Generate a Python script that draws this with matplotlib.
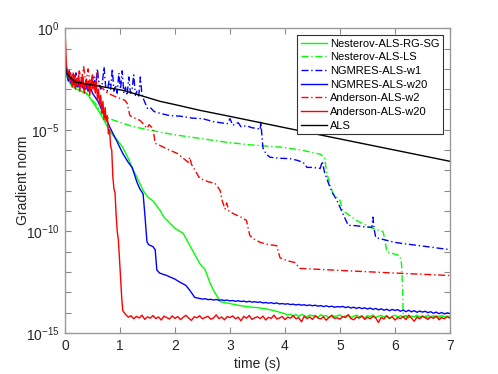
import matplotlib
matplotlib.use("Agg")
import matplotlib.pyplot as plt
import numpy as np

plt.rcParams['font.family'] = ['Liberation Sans', 'DejaVu Sans']
plt.rcParams['mathtext.fontset'] = 'custom'
plt.rcParams['mathtext.rm'] = 'Liberation Sans'
plt.rcParams['mathtext.default'] = 'regular'

# ---- data: time (s) and log10(gradient norm) ----

# ALS
t_als = [0, 0.01, 0.03, 0.07, 0.18, 0.55, 1.04, 1.3, 1.73, 2.0, 2.45, 3.0, 4.22, 5.0, 6.0, 7.0]
g_als = [-1.3, -1.9, -2.2, -2.35, -2.65, -2.82, -3.05, -3.25, -3.6, -3.76, -4.04, -4.34, -5.02, -5.45, -6.0, -6.55]

# Nesterov-ALS-RG-SG
t_nrg = [0, 0.02, 0.05, 0.1, 0.15, 0.25, 0.4, 0.51, 0.64, 0.73, 0.82, 0.87, 0.95, 1.05, 1.15,
         1.22, 1.3, 1.42, 1.5, 1.6, 1.73, 1.8, 1.91, 2.0, 2.15, 2.3, 2.45, 2.55, 2.64, 2.72,
         2.78, 2.82, 2.9, 3.0, 3.18, 3.36, 3.5, 3.67, 3.8, 3.96]
g_nrg = [-1.4, -2.2, -2.5, -2.75, -2.9, -3.05, -3.2, -3.65, -4.19, -4.63, -5.1, -5.27, -5.5, -5.86, -6.4,
         -6.85, -7.3, -7.98, -8.3, -8.5, -8.97, -9.3, -9.6, -9.85, -10.1, -10.84, -11.58, -11.9, -12.56, -13.0,
         -13.25, -13.45, -13.5, -13.55, -13.65, -13.72, -13.75, -13.82, -13.9, -14.02]
g_nrg_floor = [-14.05, -14.12, -14.08, -14.15, -14.10, -14.18, -14.09, -14.14, -14.20, -14.11,
               -14.16, -14.13, -14.22, -14.10, -14.17, -14.14, -14.25, -14.12, -14.19, -14.15,
               -14.11, -14.21, -14.16, -14.13, -14.24, -14.18, -14.12, -14.20, -14.15, -14.27,
               -14.14, -14.19, -14.11, -14.23, -14.17, -14.13, -14.21, -14.16, -14.30, -14.18,
               -14.12, -14.22, -14.15, -14.19, -14.13, -14.26, -14.17, -14.21, -14.14, -14.20,
               -14.16, -14.24, -14.12, -14.19, -14.15, -14.22, -14.18, -14.13, -14.21, -14.17, -14.19]

# Nesterov-ALS-LS
t_nls = [0, 0.02, 0.05, 0.1, 0.2, 0.4, 0.55, 0.65, 0.72, 0.8, 1.0, 1.25, 1.55, 2.0, 2.45, 2.9,
         3.36, 3.96, 4.3, 4.64, 4.72, 4.76, 4.87, 5.0, 5.05, 5.3, 5.55, 5.67, 5.78, 5.82, 5.85,
         6.09, 6.12, 6.14, 6.15]
g_nls = [-1.4, -2.2, -2.5, -2.75, -2.95, -3.25, -3.7, -4.1, -4.3, -4.45, -4.63, -4.85, -5.02, -5.25, -5.42, -5.6,
         -5.74, -5.86, -6.0, -6.2, -6.35, -7.14, -8.13, -8.47, -8.97, -9.46, -9.8, -9.92, -10.0, -10.4, -11.0,
         -11.2, -11.6, -12.8, -14.1]
g_nls_floor = [-14.22, -14.15, -14.28, -14.18, -14.24, -14.12, -14.30, -14.20, -14.16,
               -14.26, -14.19, -14.23, -14.14, -14.27, -14.21, -14.17, -14.25, -14.20]

# NGMRES-ALS-w1
t_nw1 = [0, 0.02, 0.05, 0.08, 0.11, 0.14, 0.17, 0.2, 0.23, 0.26, 0.29, 0.32, 0.35, 0.38, 0.41,
         0.44, 0.47, 0.5, 0.53, 0.56, 0.59, 0.62, 0.65, 0.68, 0.71, 0.74, 0.77, 0.8, 0.83, 0.86,
         0.89, 0.92, 0.95, 0.98, 1.01, 1.04, 1.07, 1.1, 1.13, 1.16, 1.19, 1.22, 1.25, 1.28, 1.31,
         1.34, 1.37, 1.4, 1.43, 1.46, 1.5, 1.55, 1.62, 1.73, 1.9, 2.1, 2.33, 2.5, 2.7, 2.95,
         3.0, 3.05, 3.15, 3.2, 3.3, 3.4, 3.5, 3.55, 3.56, 3.6, 3.66, 3.73, 3.9, 4.09, 4.22,
         4.33, 4.4, 4.5, 4.64, 4.68, 4.72, 4.76, 4.8, 4.87, 4.95, 5.05, 5.15, 5.3, 5.45, 5.58,
         5.6, 5.62, 5.65, 5.85, 6.0, 6.15, 6.5, 7.0]
g_nw1 = [-1.2, -1.9, -2.4, -2.1, -2.7, -2.3, -2.8, -2.2, -2.6, -2.9, -2.5, -2.8, -2.7, -3.0, -2.6,
         -2.9, -2.7, -3.0, -2.4, -2.9, -2.0, -2.8, -3.0, -2.7, -1.9, -2.9, -3.1, -2.6, -3.0, -2.0,
         -3.1, -2.8, -3.2, -2.2, -3.0, -2.1, -3.2, -2.9, -3.3, -2.4, -3.2, -3.0, -2.3, -3.3, -3.1,
         -3.4, -2.4, -3.3, -3.5, -3.7, -3.95, -3.9, -4.1, -4.19, -4.3, -4.33, -4.43, -4.45, -4.6, -4.7,
         -4.45, -4.78, -4.65, -4.85, -4.8, -4.9, -4.93, -5.0, -4.6, -5.9, -6.2, -6.35, -6.4, -6.42, -6.5,
         -6.6, -6.85, -6.85, -6.9, -6.55, -7.1, -7.39, -7.7, -8.13, -8.5, -9.11, -9.7, -9.72, -9.78, -9.8,
         -9.3, -9.85, -10.3, -10.44, -10.54, -10.6, -10.72, -10.9]

# NGMRES-ALS-w20
t_nw20 = [0, 0.03, 0.06, 0.1, 0.14, 0.18, 0.22, 0.26, 0.3, 0.34, 0.38, 0.42, 0.46, 0.5, 0.55,
          0.6, 0.65, 0.7, 0.76, 0.82, 0.87, 0.95, 1.05, 1.15, 1.22, 1.31, 1.36, 1.42, 1.45, 1.49,
          1.52, 1.6, 1.64, 1.67, 1.72, 1.85, 2.0, 2.09, 2.2, 2.27, 2.36, 2.45]
g_nw20 = [-1.3, -2.2, -2.6, -2.4, -2.8, -2.5, -2.9, -2.6, -2.8, -3.0, -2.7, -3.1, -2.9, -3.2, -3.4,
          -3.6, -3.9, -4.2, -4.53, -4.9, -5.17, -5.6, -6.16, -6.6, -6.85, -7.59, -7.9, -8.15, -9.1, -10.5,
          -10.65, -10.75, -10.9, -11.9, -12.05, -12.17, -12.35, -12.5, -12.66, -12.9, -13.25, -13.3]
g_nw20_floor = [-13.33, -13.31, -13.36, -13.34, -13.38, -13.35, -13.39, -13.37, -13.40, -13.38,
                -13.42, -13.40, -13.44, -13.41, -13.45, -13.43, -13.47, -13.44, -13.48, -13.46,
                -13.49, -13.47, -13.52, -13.50, -13.53, -13.51, -13.55, -13.52, -13.57, -13.55,
                -13.58, -13.56, -13.60, -13.58, -13.62, -13.59, -13.63, -13.61, -13.65, -13.62,
                -13.66, -13.63, -13.68, -13.65, -13.70, -13.66, -13.71, -13.68, -13.73, -13.70,
                -13.72, -13.69, -13.75, -13.71, -13.77, -13.73, -13.79, -13.74, -13.80, -13.76,
                -13.82, -13.77, -13.84, -13.79, -13.86, -13.81, -13.88, -13.83, -13.90, -13.84,
                -13.89, -13.85, -13.93, -13.87, -13.95, -13.88, -13.96, -13.90, -13.98, -13.92,
                -13.97, -13.93, -14.00, -13.95, -14.03, -13.97, -14.05, -13.99, -14.06, -14.01, -14.04]

# Anderson-ALS-w2
t_aw2 = [0, 0.03, 0.06, 0.1, 0.14, 0.18, 0.22, 0.26, 0.3, 0.34, 0.38, 0.42, 0.46, 0.5, 0.54,
         0.58, 0.62, 0.65, 0.7, 0.75, 0.82, 0.9, 1.0, 1.09, 1.13, 1.18, 1.25, 1.36, 1.42, 1.49,
         1.53, 1.6, 1.64, 1.75, 1.9, 2.04, 2.15, 2.24, 2.27, 2.3, 2.45, 2.6, 2.73, 2.82, 2.86,
         2.91, 2.94, 2.98, 3.05, 3.2, 3.3, 3.36, 3.45, 3.55, 3.7, 3.85, 3.91, 4.05, 4.18, 4.27,
         5.0, 6.0, 7.0]
g_aw2 = [-1.4, -2.0, -2.5, -2.2, -2.7, -2.3, -2.8, -2.1, -2.6, -1.9, -2.7, -2.0, -2.8, -2.3, -2.9,
         -2.2, -2.7, -2.9, -3.0, -3.15, -3.25, -3.35, -3.45, -3.55, -3.7, -4.3, -4.4, -4.53, -4.7, -4.93,
         -4.75, -4.93, -5.67, -5.8, -6.0, -6.16, -6.4, -6.6, -6.35, -6.7, -7.39, -7.55, -7.64, -7.98, -8.5,
         -8.9, -8.6, -9.0, -9.11, -9.3, -9.46, -10.2, -10.4, -10.54, -10.65, -10.7, -11.3, -11.45, -11.53, -11.82,
         -11.92, -12.05, -12.17]

# Anderson-ALS-w20
t_aw20 = [0, 0.01, 0.02, 0.03, 0.05, 0.07, 0.09, 0.11, 0.13, 0.15, 0.17, 0.19, 0.21, 0.23, 0.25,
          0.27, 0.29, 0.31, 0.33, 0.35, 0.37, 0.39, 0.41, 0.43, 0.45, 0.47, 0.49, 0.51, 0.53, 0.55,
          0.57, 0.59, 0.61, 0.63, 0.65, 0.67, 0.69, 0.71, 0.73, 0.75, 0.77, 0.79, 0.81, 0.83, 0.85,
          0.87, 0.89, 0.91, 0.93, 0.95, 0.97, 0.99, 1.01, 1.03, 1.05]
g_aw20 = [0.0, -0.7, -1.4, -1.9, -2.3, -2.1, -2.6, -2.4, -2.9, -2.2, -2.7, -3.0, -2.5, -2.8, -2.3,
          -3.1, -2.6, -2.9, -2.4, -3.2, -2.7, -2.5, -3.0, -2.6, -3.3, -2.8, -2.4, -3.0, -2.7, -3.2,
          -2.6, -3.5, -3.0, -3.8, -3.3, -4.2, -3.6, -4.5, -3.9, -4.6, -4.3, -5.2, -5.0, -5.8, -6.0,
          -7.3, -7.9, -8.1, -9.2, -10.0, -10.4, -11.3, -12.3, -13.2, -13.9]
g_aw20_floor = [-14.08, -14.22, -14.15, -14.30, -14.18, -14.26, -14.12, -14.33, -14.20, -14.27,
                -14.14, -14.29, -14.21, -14.36, -14.17, -14.24, -14.31, -14.16, -14.28, -14.19,
                -14.34, -14.22, -14.13, -14.27, -14.38, -14.20, -14.25, -14.15, -14.30, -14.23,
                -14.18, -14.32, -14.26, -14.11, -14.29, -14.21, -14.35, -14.19, -14.24, -14.16,
                -14.30, -14.22, -14.40, -14.18, -14.27, -14.14, -14.33, -14.25, -14.20, -14.29,
                -14.17, -14.36, -14.23, -14.28, -14.12, -14.31, -14.26, -14.19, -14.34, -14.22,
                -14.27, -14.15, -14.30, -14.24, -14.45, -14.18, -14.29, -14.21, -14.33, -14.16,
                -14.26, -14.31, -14.20, -14.37, -14.23, -14.14, -14.28, -14.25, -14.32, -14.19,
                -14.24, -14.10, -14.29, -14.35, -14.21, -14.27, -14.17, -14.33, -14.22, -14.30,
                -14.18, -14.26, -14.48, -14.23, -14.31, -14.15, -14.28, -14.20, -14.36, -14.24,
                -14.29, -14.19, -14.34, -14.12, -14.27, -14.42, -14.22, -14.30, -14.17, -14.25,
                -14.33, -14.21, -14.28, -14.16, -14.35, -14.24, -14.30, -14.20, -14.27]


def series(t, g, t0=None, floor=None):
    t = list(t)
    g = list(g)
    if floor is not None:
        t += list(np.linspace(t0, 7.0, len(floor)))
        g += list(floor)
    return np.array(t), 10.0 ** np.array(g)


dd = (0, (5, 2, 1, 2))
GREEN = '#00ff00'

fig = plt.figure(figsize=(4.98, 3.74), dpi=100)
ax = fig.add_axes([0.1305, 0.1096, 0.773, 0.815])

x, y = series(t_nrg, g_nrg, 4.0, g_nrg_floor)
ax.semilogy(x, y, color=GREEN, lw=1.0, label='Nesterov-ALS-RG-SG')
x, y = series(t_nls, g_nls, 6.15, g_nls_floor)
ax.semilogy(x, y, color=GREEN, lw=1.0, ls=dd, label='Nesterov-ALS-LS')
x, y = series(t_nw1, g_nw1)
ax.semilogy(x, y, color='#0000ff', lw=1.0, ls=dd, label='NGMRES-ALS-w1')
x, y = series(t_nw20, g_nw20, 2.5, g_nw20_floor)
ax.semilogy(x, y, color='#0000ff', lw=1.0, label='NGMRES-ALS-w20')
x, y = series(t_aw2, g_aw2)
ax.semilogy(x, y, color='#ff0000', lw=1.0, ls=dd, label='Anderson-ALS-w2')
x, y = series(t_aw20, g_aw20, 1.1, g_aw20_floor)
ax.semilogy(x, y, color='#ff0000', lw=1.0, label='Anderson-ALS-w20')
x, y = series(t_als, g_als)
ax.semilogy(x, y, color='black', lw=1.0, label='ALS')

ax.set_xlim(0, 7)
ax.set_ylim(1e-15, 1)
ax.set_xticks(range(8))
decades = list(range(-15, 1))
ax.set_yticks([10.0 ** d for d in decades])
ax.set_yticklabels(['$10^{%d}$' % d if d % 5 == 0 else '' for d in decades])
ax.minorticks_off()
ax.tick_params(direction='in', top=True, right=True, length=4, width=0.8,
               color='#8a8a8a', labelsize=10, labelcolor='#262626', pad=4)
for s in ax.spines.values():
    s.set_color('#9a9a9a')
    s.set_linewidth(1.0)

ax.set_xlabel('time (s)', fontsize=10, color='#262626', labelpad=3)
ax.set_ylabel('Gradient norm', fontsize=10, color='#262626')
ax.yaxis.set_label_coords(-0.09, 0.5)

leg = ax.legend(loc='upper right', bbox_to_anchor=(0.982, 0.977), borderaxespad=0,
                fontsize=8, handlelength=2.4, labelspacing=0.33, handletextpad=0.25,
                borderpad=0.3, fancybox=False, framealpha=1)
leg.get_frame().set_edgecolor('#333333')
leg.get_frame().set_linewidth(0.8)

fig.savefig('out.png', dpi=100)
